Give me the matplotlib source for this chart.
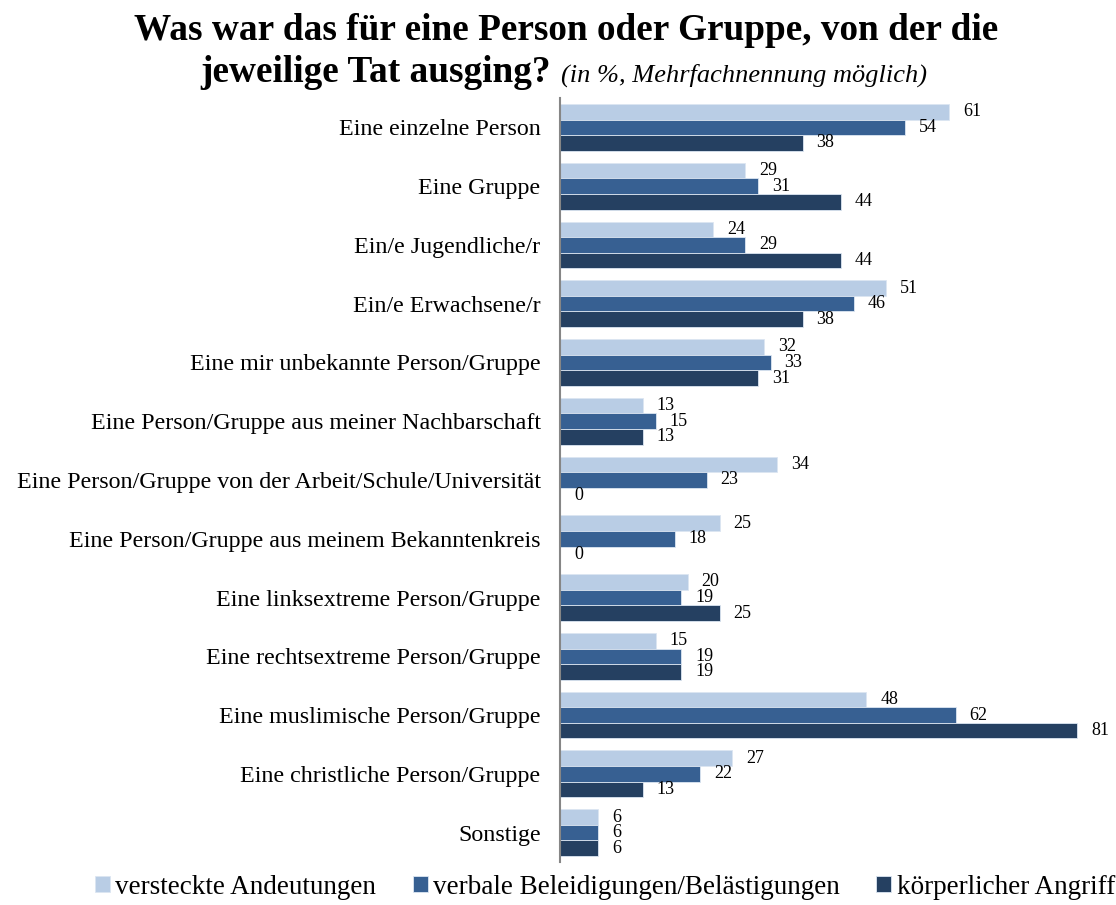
import matplotlib.pyplot as plt
import numpy as np

plt.rcParams['font.family'] = ['Liberation Serif', 'DejaVu Serif']

categories = [
    "Eine einzelne Person",
    "Eine Gruppe",
    "Ein/e Jugendliche/r",
    "Ein/e Erwachsene/r",
    "Eine mir unbekannte Person/Gruppe",
    "Eine Person/Gruppe aus meiner Nachbarschaft",
    "Eine Person/Gruppe von der Arbeit/Schule/Universität",
    "Eine Person/Gruppe aus meinem Bekanntenkreis",
    "Eine linksextreme Person/Gruppe",
    "Eine rechtsextreme Person/Gruppe",
    "Eine muslimische Person/Gruppe",
    "Eine christliche Person/Gruppe",
    "Sonstige",
]
versteckt = [61, 29, 24, 51, 32, 13, 34, 25, 20, 15, 48, 27, 6]
verbal = [54, 31, 29, 46, 33, 15, 23, 18, 19, 19, 62, 22, 6]
koerperlich = [38, 44, 44, 38, 31, 13, 0, 0, 25, 19, 81, 13, 6]
series_names = ["versteckte Andeutungen", "verbale Beleidigungen/Belästigungen",
                "körperlicher Angriff"]
colors = ["#B9CDE5", "#376092", "#254061"]

W, H = 1116, 905
fig = plt.figure(figsize=(W / 100, H / 100), dpi=100)
ax = fig.add_axes([560 / W, (H - 862) / H, (W - 560) / W, (862 - 98) / H])

y = np.arange(len(categories))
bh = 0.265
handles = []
for i, (vals, name, c) in enumerate(zip([versteckt, verbal, koerperlich], series_names, colors)):
    pos = y + (i - 1) * bh
    b = ax.barh(pos, vals, height=bh, color=c, edgecolor="#DCE6F2", linewidth=0.6, label=name)
    handles.append(b)
    for p, v in zip(pos, vals):
        ax.annotate(str(v), (v, p), xytext=(10, 0), textcoords="offset points",
                    ha="left", va="center", fontsize=13)

ax.set_xlim(0, 87.1)
ax.set_ylim(len(categories) - 0.5, -0.5)
ax.set_yticks(y)
ax.set_yticklabels(categories, fontsize=17.3)
ax.tick_params(axis="y", length=0, pad=14)
ax.set_xticks([])
for s in ["top", "right", "bottom"]:
    ax.spines[s].set_visible(False)
ax.spines["left"].set_color("#868686")
ax.spines["left"].set_linewidth(1.5)

fig.text(566 / W, 1 - 40 / H, "Was war das für eine Person oder Gruppe, von der die",
         ha="center", va="baseline", fontsize=26.8, fontweight="bold")
fig.text(551 / W, 1 - 82 / H, "jeweilige Tat ausging?", ha="right", va="baseline",
         fontsize=26.8, fontweight="bold")
fig.text(561 / W, 1 - 82 / H, "(in %, Mehrfachnennung möglich)", ha="left", va="baseline",
         fontsize=19, style="italic")

fig.legend(handles=handles, loc="center", bbox_to_anchor=(605 / W, 1 - 887 / H), ncol=3,
           frameon=False, fontsize=19.5, handlelength=0.55, handleheight=0.55,
           handletextpad=0.2, columnspacing=1.35, borderpad=0.1)

fig.savefig("out.png", dpi=100)
